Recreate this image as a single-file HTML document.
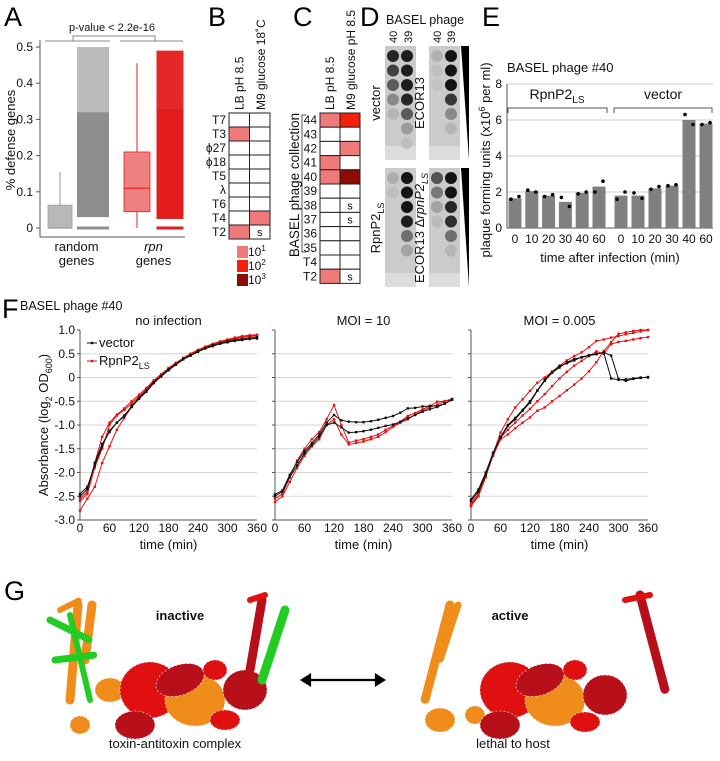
<!DOCTYPE html>
<html><head><meta charset="utf-8">
<style>
body{margin:0;background:#fff;}
svg{display:block;font-family:"Liberation Sans",Arial,sans-serif;}
.pl{font-size:27px;fill:#000;}
.t{font-size:12px;fill:#111;}
.s{font-size:11px;fill:#111;}
</style></head>
<body>
<svg id="fig" width="720" height="761" viewBox="0 0 720 761">
<text class="pl" x="4" y="26">A</text>
<text class="pl" x="208" y="26">B</text>
<text class="pl" x="293" y="26">C</text>
<text class="pl" x="360" y="26">D</text>
<text class="pl" x="482" y="26">E</text>
<text class="pl" x="2" y="318">F</text>
<text class="pl" x="4" y="600">G</text>

<g id="pa"></g>
<g id="pb"></g>
<g id="pc"></g>
<g id="pd"></g>
<g id="pe"></g>
<g id="pf"></g>
<g id="pg"></g>
</svg>
<script>
const NS="http://www.w3.org/2000/svg";
function mk(tag,attrs,parent,txt){const e=document.createElementNS(NS,tag);for(const k in attrs)e.setAttribute(k,attrs[k]);if(txt!==undefined)e.textContent=txt;parent.appendChild(e);return e;}

/* ---------- Panel A data ---------- */
const aGroups=["random genes","rpn genes"];
const aBoxQ1=[0,0.045], aMed=[0,0.11], aQ3=[0.063,0.21], aWhiskLo=[0,0], aWhiskHi=[0.155,0.455];
const aDenseLo=[0.03,0.025], aDenseHi=[0.32,0.33], aSparseHi=[0.5,0.49];
const aYTicks=[0,0.1,0.2,0.3,0.4,0.5];

/* ---------- Panel B/C data ---------- */
const bRows=["T7","T3","ϕ27","ϕ18","T5","λ","T6","T4","T2"];
const bCol1=[0,1,0,0,0,0,0,0,1];
const bCol2=[0,0,0,0,0,0,0,1,"s"];
const cRows=["44","43","42","41","40","39","38","37","36","35","T4","T2"];
const cCol1=[1,0,0,1,1,0,0,0,0,0,0,1];
const cCol2=[2,0,1,0,3,0,"s","s",0,0,0,"s"];
const heatColors=["#fff","#f07a7a","#f5200c","#8b0c00"];

/* ---------- Panel E data ---------- */
const eTimes=["0","10","20","30","40","60","0","10","20","30","40","60"];
const eBars=[1.65,2.05,1.8,1.45,1.95,2.3,1.8,1.8,2.2,2.35,6.0,5.8];
const eDot1=[1.6,2.1,1.75,1.7,1.9,2.0,1.6,1.95,2.15,2.35,6.3,5.75];
const eDot2=[1.75,2.0,1.85,1.2,2.0,2.6,2.0,1.65,2.3,2.4,5.75,5.85];
const eYTicks=[0,2,4,6,8];

/* ---------- Panel F data (every 15 min) ---------- */
const fTime=[0,15,30,45,60,75,90,105,120,135,150,165,180,195,210,225,240,255,270,285,300,315,330,345,360];
const fNoInfVec1=[-2.5,-2.35,-1.8,-1.4,-1.15,-0.95,-0.8,-0.62,-0.45,-0.3,-0.12,0.02,0.15,0.27,0.38,0.46,0.54,0.61,0.66,0.71,0.74,0.77,0.79,0.81,0.82];
const fNoInfVec2=[-2.45,-2.3,-1.85,-1.45,-1.12,-0.95,-0.82,-0.6,-0.43,-0.28,-0.1,0.03,0.17,0.28,0.39,0.47,0.55,0.62,0.68,0.72,0.76,0.79,0.81,0.83,0.85];
const fNoInfRed1=[-2.8,-2.55,-2.3,-1.8,-1.45,-1.1,-0.85,-0.62,-0.42,-0.27,-0.1,0.04,0.17,0.29,0.4,0.49,0.57,0.64,0.7,0.74,0.78,0.81,0.84,0.86,0.88];
const fNoInfRed2=[-2.55,-2.4,-1.8,-1.25,-0.95,-0.78,-0.65,-0.5,-0.36,-0.22,-0.06,0.07,0.2,0.31,0.41,0.5,0.58,0.65,0.71,0.76,0.8,0.84,0.87,0.89,0.9];
const fNoInfRed3=[-2.6,-2.45,-1.9,-1.5,-1.0,-0.8,-0.68,-0.55,-0.4,-0.25,-0.08,0.05,0.18,0.3,0.41,0.5,0.58,0.64,0.7,0.75,0.79,0.82,0.85,0.87,0.89];
const fMoi10Vec1=[-2.46,-2.38,-2.05,-1.78,-1.55,-1.38,-1.2,-0.95,-0.79,-0.9,-0.93,-0.94,-0.94,-0.92,-0.89,-0.85,-0.81,-0.74,-0.65,-0.64,-0.61,-0.6,-0.6,-0.55,-0.46];
const fMoi10Vec2=[-2.5,-2.4,-2.1,-1.85,-1.6,-1.42,-1.25,-1.0,-0.95,-1.05,-1.16,-1.15,-1.13,-1.1,-1.06,-1.02,-0.99,-0.93,-0.86,-0.79,-0.72,-0.67,-0.62,-0.55,-0.47];
const fMoi10Red1=[-2.55,-2.45,-2.1,-1.75,-1.5,-1.3,-1.15,-0.88,-0.58,-1.0,-1.37,-1.33,-1.3,-1.25,-1.2,-1.1,-1.02,-0.93,-0.81,-0.75,-0.67,-0.6,-0.51,-0.5,-0.46];
const fMoi10Red2=[-2.62,-2.5,-2.2,-1.9,-1.65,-1.45,-1.3,-1.0,-0.88,-1.2,-1.41,-1.38,-1.35,-1.3,-1.25,-1.15,-1.04,-0.95,-0.88,-0.78,-0.7,-0.63,-0.57,-0.5,-0.45];
const fMoi005Vec1=[-2.57,-2.36,-2.0,-1.58,-1.27,-1.02,-0.88,-0.7,-0.53,-0.28,-0.07,0.1,0.21,0.32,0.39,0.42,0.46,0.49,0.53,0.46,-0.03,-0.07,-0.03,-0.01,0.01];
const fMoi005Vec2=[-2.6,-2.4,-2.05,-1.6,-1.25,-1.0,-0.85,-0.68,-0.5,-0.27,-0.05,0.12,0.24,0.3,0.36,0.43,0.47,0.5,0.52,-0.02,-0.05,-0.04,-0.02,0.0,0.0];
const fMoi005Red1=[-2.71,-2.5,-2.1,-1.6,-1.16,-0.88,-0.63,-0.46,-0.28,-0.11,0.0,0.12,0.25,0.36,0.45,0.53,0.64,0.77,0.8,0.84,0.87,0.91,0.94,0.97,1.0];
const fMoi005Red2=[-2.65,-2.45,-2.05,-1.62,-1.27,-1.1,-0.95,-0.8,-0.66,-0.5,-0.35,-0.18,-0.02,0.12,0.25,0.35,0.45,0.55,0.5,0.7,0.75,0.77,0.8,0.83,0.85];
const fMoi005Red3=[-2.68,-2.48,-2.08,-1.65,-1.3,-1.2,-1.07,-0.95,-0.84,-0.7,-0.63,-0.5,-0.39,-0.27,-0.15,-0.02,0.13,0.32,0.56,0.74,0.92,0.95,0.98,1.0,1.0];
const fXTicks=[0,60,120,180,240,300,360];
const fYTicks=[1.0,0.5,0,-0.5,-1.0,-1.5,-2.0,-2.5,-3.0];
const fYTickLabels=["1.0","0.5","0","-0.5","-1.0","-1.5","-2.0","-2.5","-3.0"];

/* ================= Panel A ================= */
(function(){
const g=document.getElementById('pa');
const y=v=>228-v*362;
const xBox=[60,137], xSc=[93,170], bw=[24,26], sw=[32,27];
const ax=mk('line',{x1:40,y1:40,x2:40,y2:237,stroke:'#555','stroke-width':1},g);

mk('line',{x1:40,y1:237,x2:185,y2:237,stroke:'#555','stroke-width':1},g);
aYTicks.forEach(v=>{mk('line',{x1:36,x2:40,y1:y(v),y2:y(v),stroke:'#555'},g);
 const t=mk('text',{x:33,y:y(v)+4,'text-anchor':'end',class:'t'},g,String(v));
 });
const yl=mk('text',{transform:'translate(15,140) rotate(-90)','text-anchor':'middle',class:'t',style:'font-size:13px'},g,'% defense genes');

mk('path',{d:'M45 41H110M120 41H183M73 41V36H155V41',stroke:'#888',fill:'none'},g);
const pv=mk('text',{x:112,y:31,'text-anchor':'middle',class:'s'},g,'p-value < 2.2e-16');

const cols=[['#b8b8b8','#999','#8e8e8e'],['#ef8080','#e02020','#e31c1c']];
for(let i=0;i<2;i++){
 const c=cols[i];
 mk('line',{x1:xBox[i],x2:xBox[i],y1:y(aWhiskHi[i]),y2:y(aWhiskLo[i]),stroke:c[1]},g);
 const b=mk('rect',{x:xBox[i]-bw[i]/2,y:y(aQ3[i]),width:bw[i],height:Math.max(1,y(aBoxQ1[i])-y(aQ3[i])),fill:c[0],stroke:c[1],'stroke-width':0.8},g);
 
 mk('line',{x1:xBox[i]-bw[i]/2,x2:xBox[i]+bw[i]/2,y1:y(aMed[i]),y2:y(aMed[i]),stroke:c[1],'stroke-width':1.2},g);
 const s=mk('rect',{x:xSc[i]-sw[i]/2,y:y(aDenseHi[i]),width:sw[i],height:y(aDenseLo[i])-y(aDenseHi[i]),fill:c[2]},g);
 
 mk('rect',{x:xSc[i]-sw[i]/2,y:y(aSparseHi[i]),width:sw[i],height:y(aDenseHi[i])-y(aSparseHi[i]),fill:c[2],opacity:i?0.95:0.6},g);
 mk('rect',{x:xSc[i]-sw[i]/2,y:y(0)-1.5,width:sw[i],height:3,fill:c[2]},g);
 const lab=aGroups[i].split(' ');
 const l1=mk('text',{x:(xBox[i]+xSc[i])/2,y:251,'text-anchor':'middle',class:'t',style:'font-size:13px'+(i?';font-style:italic':'')},g,lab[0]);
 
 mk('text',{x:(xBox[i]+xSc[i])/2,y:265,'text-anchor':'middle',class:'t',style:'font-size:13px'},g,lab[1]);
}
})();

/* ================= Panels B & C ================= */
function heat(gid,x0,y0,cw,rh,rows,c1,c2,pref){
 const g=document.getElementById(gid);
 rows.forEach((r,i)=>{
  const t=mk('text',{x:x0-3,y:y0+i*rh+rh/2+4,'text-anchor':'end',class:'t'},g,r);
  
  [c1[i],c2[i]].forEach((v,j)=>{
   const cell=mk('rect',{x:x0+j*cw,y:y0+i*rh,width:cw,height:rh,fill:heatColors[typeof v==='number'?v:0],stroke:'#222','stroke-width':1},g);
   
   if(v==='s')mk('text',{x:x0+j*cw+cw/2,y:y0+i*rh+rh/2+4,'text-anchor':'middle',class:'s'},g,'s');
  });
 });
 const h1=mk('text',{transform:`translate(${x0+cw/2+4},${y0-3}) rotate(-90)`,class:'t'},g,'LB pH 8.5');
 
 return g;
}
(function(){
 const g=heat('pb',229,113,20.5,14,bRows,bCol1,bCol2,'b');
 const h=mk('text',{transform:'translate(265,110) rotate(-90)',class:'t'},g,'M9 glucose 18˚C');
 
 ['1','2','3'].forEach((e,i)=>{
  const r=mk('rect',{x:237,y:246+i*14,width:11,height:12,fill:heatColors[i+1]},g);
  
  const t=mk('text',{x:248,y:256+i*14,class:'t'},g,'10');
  mk('tspan',{dy:-5,style:'font-size:8px'},t,e);
 });
})();
(function(){
 const g=heat('pc',320,113,20,14.2,cRows,cCol1,cCol2,'c');
 const h=mk('text',{transform:'translate(355,110) rotate(-90)',class:'t'},g,'M9 glucose pH 8.5');
 
 mk('path',{d:'M306 115H302V252H306',stroke:'#555',fill:'none'},g);
 const t=mk('text',{transform:'translate(299,185) rotate(-90)','text-anchor':'middle',class:'t',style:'font-size:13.5px'},g,'BASEL phage collection');
 
})();

/* ================= Panel D (plates) ================= */
const dSpotsTL=[0.9,0.75,0.6,0.35,0.1,0,0], dSpotsTL2=[0.95,0.95,0.95,0.9,0.6,0.25,0.05];
const dSpotsTR=[0.12,0.05,0.03,0,0,0,0], dSpotsTR2=[1,1,1,0.8,0.35,0.1,0];
const dSpotsBL=[0.15,0.05,0,0,0,0,0], dSpotsBL2=[1,1,1,0.95,0.5,0.2,0];
const dSpotsBR=[0.65,0.45,0.2,0.08,0,0,0], dSpotsBR2=[1,1,0.9,0.85,0.5,0.1,0];
(function(){
 const g=document.getElementById('pd');
 const t=mk('text',{x:386,y:24,class:'t',style:'font-size:12.5px'},g,'BASEL phage');
 
 [[393,'40'],[408,'39'],[437,'40'],[451,'39']].forEach(([x,s])=>mk('text',{transform:`translate(${x+4},${43}) rotate(-90)`,class:'s'},g,s));
 const plates=[[385,46,dSpotsTL,dSpotsTL2],[429,46,dSpotsTR,dSpotsTR2],[385,168,dSpotsBL,dSpotsBL2],[429,168,dSpotsBR,dSpotsBR2]];
 plates.forEach(([x,y,a,b],pi)=>{
  const h=(pi<2?114:119);
  const p=mk('rect',{x:x,y:y,width:31,height:h,fill:'#cbcbcb'},g);
  
  mk('rect',{x:x,y:y+h-14,width:31,height:14,fill:'#dcdcdc'},g);
  for(let k=0;k<7;k++){
   [[a[k],x+8],[b[k],x+22]].forEach(([v,cx])=>{
    if(v<=0.02)return;
    const shade=Math.round(200-v*180);
    const c=mk('circle',{cx:cx,cy:y+10+k*14.5,r:6,fill:`rgb(${shade},${shade},${shade})`},g);
    
   });
  }
  if(pi%2===1){
   const w=mk('polygon',{points:`${x+32},${y} ${x+40},${y} ${x+40},${y+h}`,fill:'#000'},g);
   
  }
 });
 mk('text',{transform:'translate(380,103) rotate(-90)','text-anchor':'middle',class:'t',style:'font-size:13px'},g,'vector');
 mk('text',{transform:'translate(424,103) rotate(-90)','text-anchor':'middle',class:'t',style:'font-size:13px'},g,'ECOR13');
 const r1=mk('text',{transform:'translate(380,228) rotate(-90)','text-anchor':'middle',class:'t',style:'font-size:13px'},g,'RpnP2');
 mk('tspan',{dy:4,style:'font-size:9px'},r1,'LS');
 const r2=mk('text',{transform:'translate(424,228) rotate(-90)','text-anchor':'middle',class:'t',style:'font-size:13px'},g,'ECOR13 Δ');
 mk('tspan',{style:'font-style:italic'},r2,'rpnP2');
 mk('tspan',{dy:4,style:'font-size:9px;font-style:italic'},r2,'LS');
})();

/* ================= Panel E ================= */
(function(){
 const g=document.getElementById('pe');
 const X0=507,X1=713;
 const y=v=>228-v*18;
 const x=i=>515+(i<6?i*16.8:(i-6)*17+106);
 eYTicks.forEach(v=>{
  mk('line',{x1:X0,x2:X1,y1:y(v),y2:y(v),stroke:v===0?'#555':'#ccc'},g);
  const t=mk('text',{x:X0-5,y:y(v)+4,'text-anchor':'end',class:'t'},g,String(v));
  
 });
 mk('line',{x1:X0,x2:X0,y1:y(8),y2:y(0),stroke:'#555'},g);
 eBars.forEach((v,i)=>{
  const b=mk('rect',{x:x(i)-6.5,y:y(v),width:13,height:y(0)-y(v),fill:'#808080'},g);
  
  mk('circle',{cx:x(i)-4,cy:y(eDot1[i]),r:1.8,fill:'#000'},g);
  mk('circle',{cx:x(i)+4,cy:y(eDot2[i]),r:1.8,fill:'#000'},g);
  const t=mk('text',{x:x(i),y:243,'text-anchor':'middle',class:'t'},g,eTimes[i]);
  
  
 });
 mk('path',{d:'M508 113V108H607V113M614 113V108H712V113',stroke:'#555',fill:'none'},g);
 const r=mk('text',{x:557,y:99,'text-anchor':'middle',class:'t',style:'font-size:14px'},g,'RpnP2');
 mk('tspan',{dy:4,style:'font-size:10px'},r,'LS');
 mk('text',{x:663,y:99,'text-anchor':'middle',class:'t',style:'font-size:14px'},g,'vector');
 const ti=mk('text',{x:507,y:72,class:'t',style:'font-size:13px'},g,'BASEL phage #40');
 
 const xl=mk('text',{x:610,y:262,'text-anchor':'middle',class:'t',style:'font-size:13px'},g,'time after infection (min)');
 
 const yl=mk('text',{transform:'translate(490,160) rotate(-90)','text-anchor':'middle',class:'t',style:'font-size:13px'},g,'plaque forming units (x10');
 mk('tspan',{dy:-5,style:'font-size:9px'},yl,'6');
 mk('tspan',{dy:5},yl,' per ml)');
 
})();

/* ================= Panel F ================= */
(function(){
 const g=document.getElementById('pf');
 const ti=mk('text',{x:20,y:310,class:'t',style:'font-size:12.5px'},g,'BASEL phage #40');
 
 const panels=[
  [80,'no infection',[fNoInfVec1,fNoInfVec2],[fNoInfRed1,fNoInfRed2,fNoInfRed3]],
  [275,'MOI = 10',[fMoi10Vec1,fMoi10Vec2],[fMoi10Red1,fMoi10Red2]],
  [471,'MOI = 0.005',[fMoi005Vec1,fMoi005Vec2],[fMoi005Red1,fMoi005Red2,fMoi005Red3]]];
 const W=177;
 const yS=v=>330+(1-v)*47.5;
 panels.forEach(([x0,title,vecs,reds],pi)=>{
  const xS=t=>x0+t/360*W;
  fYTicks.forEach((v,k)=>{
   if(k>0&&k<fYTicks.length-1)mk('line',{x1:x0,x2:x0+W,y1:yS(v),y2:yS(v),stroke:'#d5d5d5'},g);
   mk('line',{x1:x0-3,x2:x0,y1:yS(v),y2:yS(v),stroke:'#555'},g);
   if(pi===0){const t=mk('text',{x:x0-5,y:yS(v)+4,'text-anchor':'end',class:'t'},g,fYTickLabels[k]);
    }
  });
  mk('line',{x1:x0,x2:x0,y1:yS(1),y2:yS(-3),stroke:'#555'},g);
  mk('line',{x1:x0,x2:x0+W,y1:yS(-3),y2:yS(-3),stroke:'#555'},g);
  fXTicks.forEach(t=>{
   const l=mk('text',{x:xS(t),y:532,'text-anchor':'middle',class:'t'},g,String(t));
   
  });
  const xt=mk('text',{x:x0+W/2,y:549,'text-anchor':'middle',class:'t',style:'font-size:13px'},g,'time (min)');
  
  const tt=mk('text',{x:x0+W/2,y:325,'text-anchor':'middle',class:'t',style:'font-size:13px'},g,title);
  
  const draw=(arr,col,nm)=>{
   const pts=fTime.map((t,i)=>xS(t)+','+yS(Math.min(1,arr[i]))).join(' ');
   const pl=mk('polyline',{points:pts,fill:'none',stroke:col,'stroke-width':1},g);
   
   fTime.forEach((t,i)=>mk('rect',{x:xS(t)-1.2,y:yS(Math.min(1,arr[i]))-1.2,width:2.4,height:2.4,fill:col},g));
  };
  reds.forEach(a=>draw(a,'#e81010','rpnp2-line'));
  vecs.forEach(a=>draw(a,'#111','vector-line'));
 });
 mk('line',{x1:87,x2:97,y1:343,y2:343,stroke:'#111'},g);mk('rect',{x:90.8,y:341.8,width:2.4,height:2.4,fill:'#111'},g);
 const l1=mk('text',{x:99,y:347,class:'t',style:'font-size:13px'},g,'vector');
 
 mk('line',{x1:87,x2:97,y1:361,y2:361,stroke:'#e81010'},g);mk('rect',{x:90.8,y:359.8,width:2.4,height:2.4,fill:'#e81010'},g);
 const l2=mk('text',{x:99,y:365,class:'t',style:'font-size:13px'},g,'RpnP2');
 mk('tspan',{dy:4,style:'font-size:9px'},l2,'LS');
 
 const yl=mk('text',{transform:'translate(48,425) rotate(-90)','text-anchor':'middle',class:'t',style:'font-size:13px'},g,'Absorbance (log');
 mk('tspan',{dy:4,style:'font-size:9px'},yl,'2');
 mk('tspan',{dy:-4},yl,' OD');
 mk('tspan',{dy:4,style:'font-size:9px'},yl,'600');
 mk('tspan',{dy:-4},yl,')');
 
})();

/* ================= Panel G (schematic structures) ================= */
(function(){
 const g=document.getElementById('pg');
 function helix(x1,y1,x2,y2,col,w){
  const h=mk('line',{x1,y1,x2,y2,stroke:col,'stroke-width':w||9,'stroke-linecap':'round','stroke-dasharray':'3 1.5'},g);
  
 }
 function blob(cx,cy,rx,ry,col,rot){
  const e=mk('ellipse',{cx,cy,rx,ry,fill:col,transform:`rotate(${rot||0} ${cx} ${cy})`,stroke:'#fff','stroke-width':0.6,'stroke-dasharray':'2 2'},g);
  
 }
 const OR='#f08c1a',RD='#e01010',DR='#b8101a',GR='#22cc22';
 helix(78,605,70,700,OR);helix(92,605,85,660,OR);helix(60,610,80,600,OR,6);
 helix(50,620,90,640,GR,7);helix(55,660,95,655,GR,7);helix(70,615,90,700,GR,6);
 blob(110,690,15,12,OR);blob(80,725,10,9,OR);
 blob(150,690,30,28,RD);blob(135,725,20,14,DR);blob(195,700,30,26,OR);
 blob(180,680,25,15,DR,-20);blob(215,670,12,10,RD);blob(245,690,22,20,DR);blob(225,720,15,10,RD);
 helix(262,600,250,670,DR);helix(285,610,262,680,GR);helix(250,600,265,595,RD,6);
 helix(450,605,425,700,OR);helix(458,605,440,660,OR,7);
 blob(440,720,15,12,OR);blob(475,715,10,9,OR);
 blob(510,690,30,28,RD);blob(500,725,20,14,DR);blob(555,700,30,26,OR);
 blob(540,680,25,15,DR,-20);blob(575,670,12,10,RD);blob(605,695,22,20,DR);blob(585,722,15,10,RD);
 helix(640,595,665,690,DR);helix(625,600,650,595,RD,6);
 const a=mk('path',{d:'M302 680H384M302 680l8 -5v10zM384 680l-8 -5v10z',stroke:'#000','stroke-width':2.2,fill:'#000'},g);
 
 const t1=mk('text',{x:180,y:620,'text-anchor':'middle',class:'t',style:'font-weight:bold;font-size:13px'},g,'inactive');
 
 const t2=mk('text',{x:510,y:620,'text-anchor':'middle',class:'t',style:'font-weight:bold;font-size:13px'},g,'active');
 
 const t3=mk('text',{x:175,y:748,'text-anchor':'middle',class:'t',style:'font-size:13px'},g,'toxin-antitoxin complex');
 
 const t4=mk('text',{x:513,y:748,'text-anchor':'middle',class:'t',style:'font-size:13px'},g,'lethal to host');
 
})();
</script>
</body></html>
